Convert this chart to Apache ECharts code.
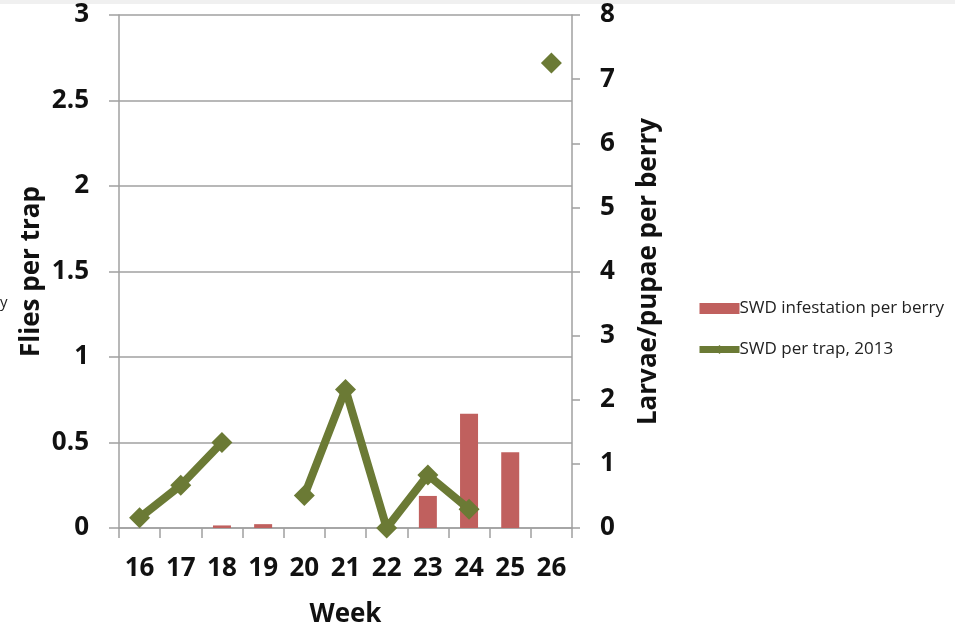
<!DOCTYPE html>
<html>
<head>
<meta charset="utf-8">
<script src="https://cdn.jsdelivr.net/npm/echarts@6/dist/echarts.min.js"></script>
<style>
  html, body { margin: 0; padding: 0; background: #ffffff; overflow: hidden; }
  #chart { width: 955px; height: 633px; }
</style>
</head>
<body>
<div id="chart"></div>
<script>
// Weekly SWD monitoring: trap catches and berry infestation
const weeks = ['16', '17', '18', '19', '20', '21', '22', '23', '24', '25', '26'];
const infestationPerBerry = [null, null, 0.04, 0.06, null, null, null, 0.5, 1.78, 1.18, null];
const fliesPerTrap = [0.06, 0.25, 0.5, null, 0.19, 0.81, 0.0, 0.31, 0.11, null, 2.72];
const barName = 'SWD infestation per berry';
const lineName = 'SWD per trap, 2013';

const FONT = '"Open Sans"';
const GREEN = '#6b7a35';
const RED = '#c0605e';
const AXIS = '#a0a0a0';
const INK = '#111111';

const boldText = { fontFamily: FONT, fontSize: 26, fontWeight: 'bold', color: INK };

const chart = echarts.init(document.getElementById('chart'), null, { renderer: 'canvas' });

chart.setOption({
  backgroundColor: '#ffffff',
  animation: false,
  textStyle: { fontFamily: FONT },
  graphic: [
    { type: 'rect', left: 0, top: 0, shape: { width: 955, height: 4 }, style: { fill: '#f0f0f0' } },
    { type: 'text', left: 0, top: 295, style: { text: 'y', font: '15px ' + FONT, fill: '#222' } }
  ],
  grid: { left: 119, top: 15, width: 453, height: 516, containLabel: false },
  legend: {
    orient: 'vertical',
    left: 691,
    top: 295,
    itemGap: 24,
    itemWidth: 40,
    itemHeight: 11,
    textStyle: { fontFamily: FONT, fontSize: 17, color: '#222', padding: [0, 0, 0, -5] },
    data: [
      { name: barName, icon: 'rect' },
      { name: lineName, lineStyle: { width: 7, color: GREEN } }
    ]
  },
  xAxis: {
    type: 'category',
    data: weeks,
    boundaryGap: true,
    name: 'Week',
    nameLocation: 'middle',
    nameGap: 74,
    nameTextStyle: boldText,
    axisLine: { lineStyle: { color: AXIS, width: 1.5 } },
    axisTick: { show: true, interval: 0, length: 10, lineStyle: { color: AXIS, width: 1.5 } },
    axisLabel: Object.assign({ interval: 0, margin: 28 }, boldText)
  },
  yAxis: [
    {
      type: 'value',
      min: 0, max: 3, interval: 0.5,
      name: 'Flies per trap',
      nameLocation: 'middle',
      nameGap: 74,
      nameTextStyle: boldText,
      axisLine: { show: true, lineStyle: { color: AXIS, width: 1.5 } },
      axisTick: { show: true, length: 10, lineStyle: { color: AXIS, width: 1.5 } },
      axisLabel: Object.assign({ margin: 30 }, boldText),
      splitLine: { show: true, lineStyle: { color: AXIS, width: 1.5 } }
    },
    {
      type: 'value',
      min: 0, max: 8, interval: 1,
      position: 'right',
      name: 'Larvae/pupae per berry',
      nameLocation: 'middle',
      nameGap: 64,
      nameRotate: 90,
      nameTextStyle: boldText,
      axisLine: { show: true, lineStyle: { color: AXIS, width: 1.5 } },
      axisTick: { show: true, length: 8, lineStyle: { color: AXIS, width: 1.5 } },
      axisLabel: Object.assign({ margin: 28 }, boldText),
      splitLine: { show: false }
    }
  ],
  series: [
    {
      name: barName,
      type: 'bar',
      yAxisIndex: 1,
      data: infestationPerBerry,
      barWidth: 18,
      itemStyle: { color: RED }
    },
    {
      name: lineName,
      type: 'line',
      yAxisIndex: 0,
      data: fliesPerTrap,
      connectNulls: false,
      symbol: 'diamond',
      symbolSize: 21,
      lineStyle: { color: GREEN, width: 8 },
      itemStyle: { color: GREEN }
    }
  ]
});
</script>
</body>
</html>
